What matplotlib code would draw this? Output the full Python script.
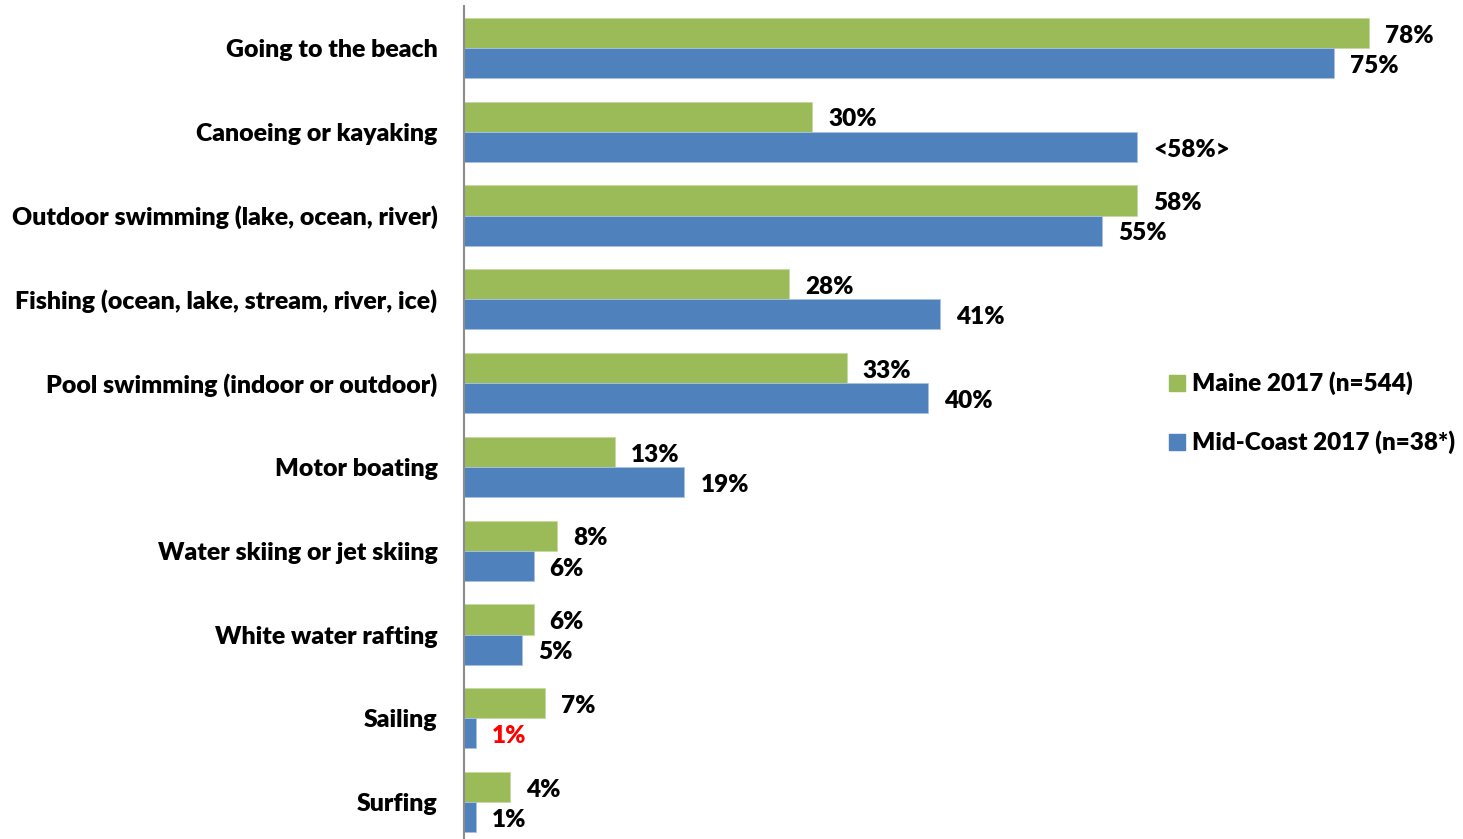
import matplotlib.pyplot as plt
from matplotlib.lines import Line2D

plt.rcParams["font.family"] = ["Lato", "DejaVu Sans"]
plt.rcParams["font.weight"] = "heavy"

activities = [
    "Going to the beach",
    "Canoeing or kayaking",
    "Outdoor swimming (lake, ocean, river)",
    "Fishing (ocean, lake, stream, river, ice)",
    "Pool swimming (indoor or outdoor)",
    "Motor boating",
    "Water skiing or jet skiing",
    "White water rafting",
    "Sailing",
    "Surfing",
]
maine = [78, 30, 58, 28, 33, 13, 8, 6, 7, 4]
midcoast = [75, 58, 55, 41, 40, 19, 6, 5, 1, 1]
midcoast_labels = ["75%", "<58%>", "55%", "41%", "40%", "19%", "6%", "5%", "1%", "1%"]
midcoast_colors = ["black"] * 8 + ["red", "black"]

green = "#9BBB59"
blue = "#4F81BD"
bar_h = 0.36
fs = 17.5
fw = "heavy"

fig = plt.figure(figsize=(14.63, 8.39), dpi=100)
ax = fig.add_axes([464 / 1463, 0, 999 / 1463, 833 / 839])

ypos = list(range(len(activities)))
ax.barh([y - bar_h / 2 for y in ypos], maine, height=bar_h, color=green,
        edgecolor="#c5d9a5", linewidth=0.6)
ax.barh([y + bar_h / 2 for y in ypos], midcoast, height=bar_h, color=blue,
        edgecolor="#a9c2e3", linewidth=0.6)

for y, v in zip(ypos, maine):
    ax.annotate(f"{v}%", (v, y - bar_h / 2), xytext=(11.5, -2), textcoords="offset points",
                va="center", ha="left", fontsize=fs, fontweight=fw)
for y, v, lab, c in zip(ypos, midcoast, midcoast_labels, midcoast_colors):
    ax.annotate(lab, (v, y + bar_h / 2), xytext=(11.5, -2), textcoords="offset points",
                va="center", ha="left", fontsize=fs, fontweight=fw, color=c)

ax.set_xlim(0, 86.1)
ax.set_ylim(9.44, -0.5)
ax.set_yticks(ypos)
ax.set_yticklabels(activities, fontsize=17.9, fontweight=fw)
ax.tick_params(axis="y", length=0, pad=19)
ax.set_xticks([])
for side in ["top", "right", "bottom"]:
    ax.spines[side].set_visible(False)
ax.spines["left"].set_color("#8c8c8c")
ax.spines["left"].set_linewidth(1.5)

handles = [
    Line2D([], [], marker="s", linestyle="none", markersize=11, color=green),
    Line2D([], [], marker="s", linestyle="none", markersize=11, color=blue),
]
fig.legend(handles, ["Maine 2017 (n=544)", "Mid-Coast 2017 (n=38*)"],
           loc="center left", bbox_to_anchor=(1170 / 1463, 1 - 413 / 839),
           frameon=False, fontsize=fs, handlelength=0.6, handletextpad=0.3,
           labelspacing=1.45, borderpad=0, borderaxespad=0,
           prop={"size": fs, "weight": fw})

fig.savefig("out.png", dpi=100)
